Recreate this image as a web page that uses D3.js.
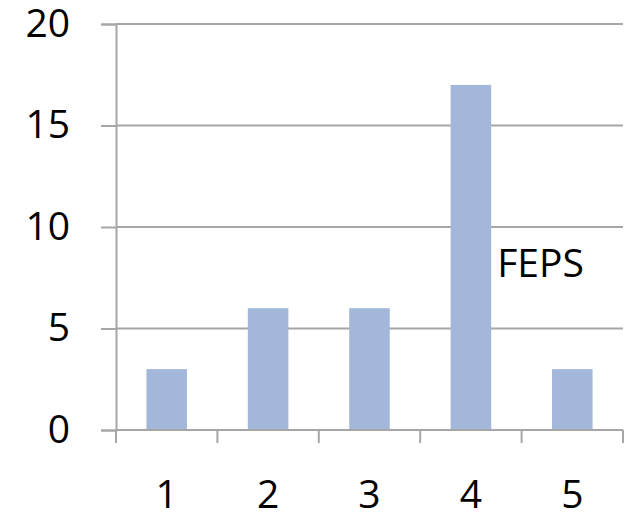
<!DOCTYPE html>
<html>
<head>
<meta charset="utf-8">
<script src="https://cdn.jsdelivr.net/npm/d3@7"></script>
<style>
  html, body { margin: 0; padding: 0; background: #ffffff; }
  svg { display: block; }
  text { font-family: "Open Sans", "Noto Sans", sans-serif; fill: #000; }
</style>
</head>
<body>
<svg id="chart" width="633" height="512"></svg>
<script>
const categories = ["1", "2", "3", "4", "5"];
const values = [3, 6, 6, 17, 3];
const yTicks = [0, 5, 10, 15, 20];
const seriesName = "FEPS";

(function () {
const svg = d3.select("#chart");
const mLeft = 116, mRight = 623, mTop = 24, mBottom = 430;
const gridColor = "#A6A6A6";
const barColor = "#A3B8D9";
const fontSize = 39;

const x = d3.scaleBand().domain(categories).range([mLeft, mRight]).paddingInner(0.6).paddingOuter(0.3);
const y = d3.scaleLinear().domain([0, 20]).range([mBottom, mTop]);
const step = x.step();
const boundaries = categories.map(c => x(c) - step * 0.3).concat([mRight]);

// gridlines
svg.append("g").selectAll("line").data(yTicks.filter(d => d > 0)).join("line")
  .attr("x1", mLeft).attr("x2", mRight)
  .attr("y1", d => y(d)).attr("y2", d => y(d))
  .attr("stroke", gridColor).attr("stroke-width", 2);

// bars
svg.append("g").selectAll("rect").data(values).join("rect")
  .attr("x", (d, i) => x(categories[i]))
  .attr("width", x.bandwidth())
  .attr("y", d => y(d))
  .attr("height", d => y(0) - y(d))
  .attr("fill", barColor);

// y axis
const yAxis = svg.append("g").attr("transform", `translate(${mLeft},0)`)
  .call(d3.axisLeft(y).tickValues(yTicks).tickSize(15).tickPadding(31).tickFormat(d3.format("d")));
yAxis.select(".domain").attr("stroke", gridColor).attr("stroke-width", 2);
yAxis.selectAll(".tick line").attr("stroke", gridColor).attr("stroke-width", 2);
yAxis.selectAll(".tick text").attr("font-size", fontSize).attr("font-family", "Open Sans").attr("fill", "#000");

// x axis line
svg.append("line").attr("x1", mLeft).attr("x2", mRight).attr("y1", y(0)).attr("y2", y(0))
  .attr("stroke", gridColor).attr("stroke-width", 2);
// x boundary ticks
svg.append("g").selectAll("line").data(boundaries).join("line")
  .attr("x1", d => d).attr("x2", d => d)
  .attr("y1", y(0)).attr("y2", y(0) + 13)
  .attr("stroke", gridColor).attr("stroke-width", 2);
// x labels
svg.append("g").selectAll("text").data(categories).join("text")
  .attr("x", d => x(d) + x.bandwidth() / 2)
  .attr("y", 508)
  .attr("text-anchor", "middle")
  .attr("font-size", fontSize)
  .text(d => d);

// series label
svg.append("text")
  .attr("x", x("4") + x.bandwidth() + 6)
  .attr("y", 277)
  .attr("font-size", fontSize)
  .text(seriesName);
})();
</script>
</body>
</html>
